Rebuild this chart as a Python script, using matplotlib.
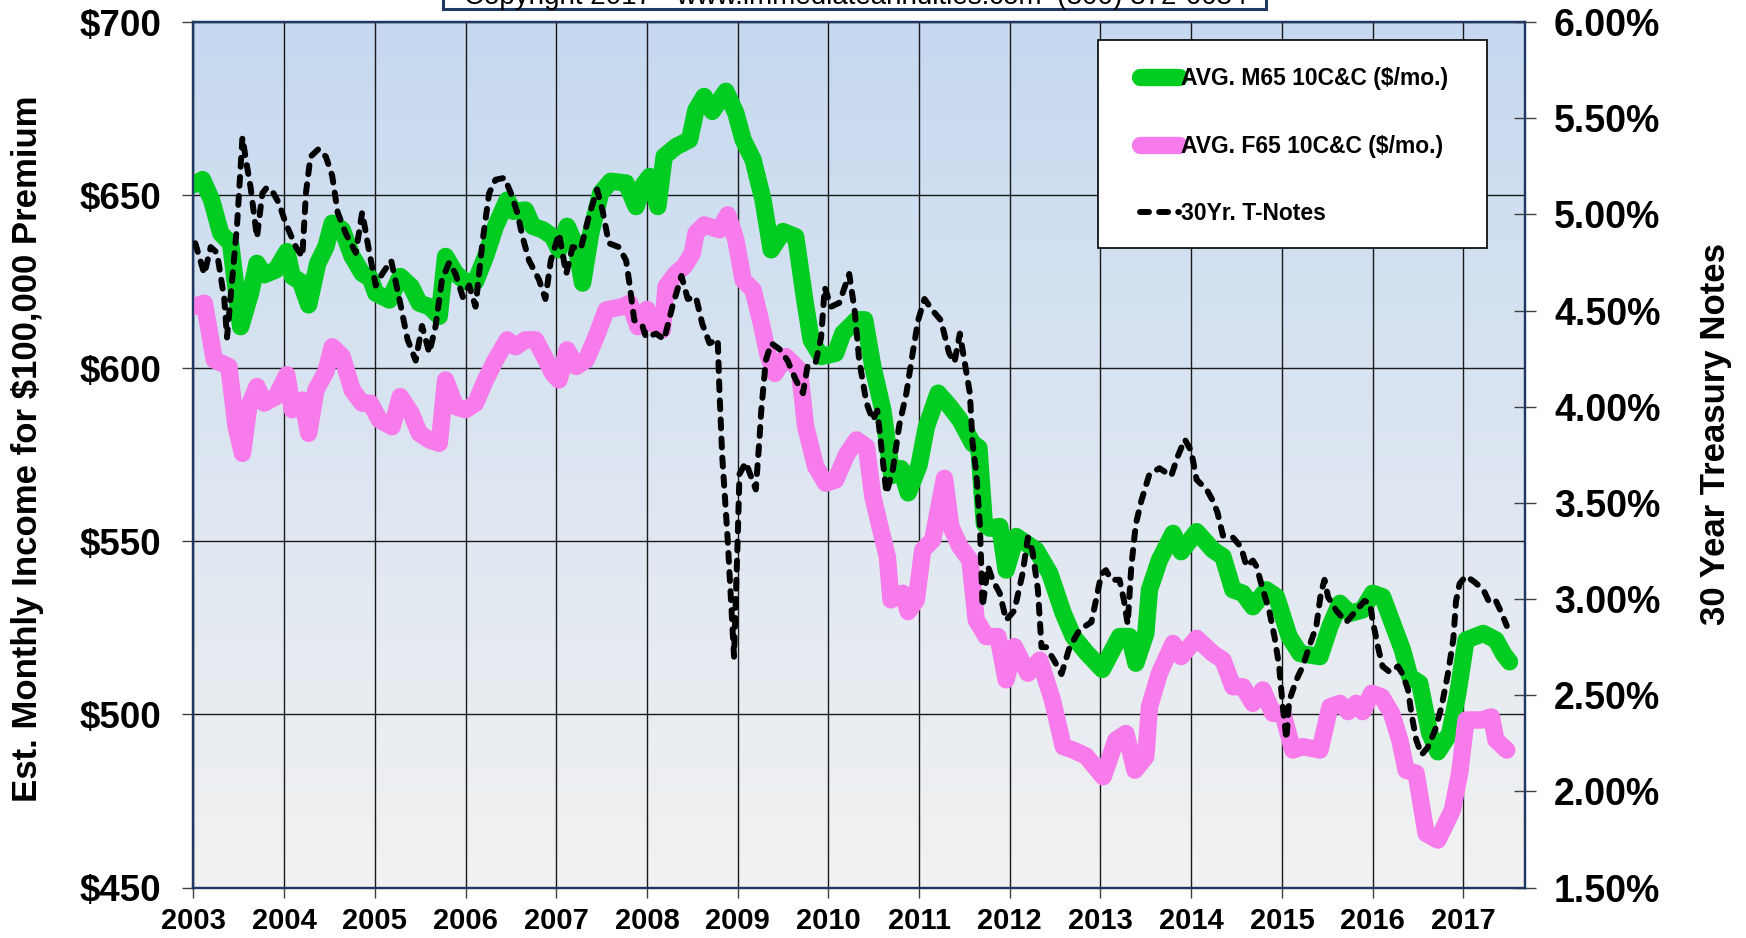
import numpy as np
import matplotlib
matplotlib.use("Agg")
import matplotlib.pyplot as plt
from matplotlib.colors import LinearSegmentedColormap
from matplotlib.patches import Rectangle
from matplotlib.ticker import FuncFormatter

plt.rcParams['font.family'] = ['Liberation Sans', 'DejaVu Sans']
plt.rcParams['font.weight'] = 'bold'

# AVG. M65 10C&C ($/mo.) - left axis
m65_t = [2003.00, 2003.10, 2003.20, 2003.30, 2003.41, 2003.52, 2003.63, 2003.70, 2003.78, 2003.91,
         2004.03, 2004.09, 2004.18, 2004.27, 2004.37, 2004.46, 2004.53, 2004.64, 2004.75, 2004.86,
         2004.95, 2005.01, 2005.16, 2005.28, 2005.40, 2005.49, 2005.60, 2005.71, 2005.78, 2005.89,
         2006.00, 2006.11, 2006.22, 2006.33, 2006.46, 2006.53, 2006.66, 2006.74, 2006.85, 2006.96,
         2007.03, 2007.12, 2007.22, 2007.29, 2007.38, 2007.49, 2007.60, 2007.77, 2007.88, 2007.96,
         2008.03, 2008.12, 2008.19, 2008.32, 2008.47, 2008.54, 2008.63, 2008.72, 2008.87, 2008.98,
         2009.06, 2009.17, 2009.28, 2009.37, 2009.50, 2009.64, 2009.74, 2009.81, 2009.92, 2010.08,
         2010.16, 2010.31, 2010.40, 2010.49, 2010.60, 2010.70, 2010.80, 2010.88, 2011.00, 2011.08,
         2011.21, 2011.34, 2011.45, 2011.59, 2011.66, 2011.72, 2011.78, 2011.89, 2011.96, 2012.07,
         2012.29, 2012.44, 2012.59, 2012.70, 2012.84, 2013.02, 2013.21, 2013.32, 2013.39, 2013.50,
         2013.54, 2013.65, 2013.80, 2013.89, 2014.06, 2014.24, 2014.35, 2014.46, 2014.57, 2014.68,
         2014.83, 2014.94, 2015.08, 2015.20, 2015.42, 2015.53, 2015.64, 2015.75, 2015.89, 2016.00,
         2016.11, 2016.22, 2016.33, 2016.41, 2016.52, 2016.63, 2016.72, 2016.85, 2016.94, 2017.03,
         2017.22, 2017.36, 2017.44, 2017.51]
m65_v = [653, 654.5, 648.6, 639, 636, 612, 621.7, 630.3, 627, 628.4,
         633.7, 626.5, 625, 618.3, 630.3, 635.1, 641.9, 640, 632.3, 627.4,
         626, 621.7, 619.7, 626.5, 623.6, 618.8, 617.8, 615, 632.3, 627.4,
         625, 625, 632.3, 641, 648.6, 645.3, 645.7, 641, 640, 638,
         634.2, 641, 635.1, 624.6, 639, 650.6, 654, 653.5, 646.7, 653,
         655.4, 646.7, 661.2, 664, 666, 674.6, 678.5, 674.2, 680, 673.7,
         666, 660.2, 648.6, 634.2, 639.5, 638, 619.7, 608.2, 603.4, 604.3,
         610.1, 614, 614, 600.5, 588, 569, 571, 564, 572, 583,
         592.8, 588.9, 585.1, 578.3, 577, 555, 553.8, 554.3, 541.7, 551.4,
         547.5, 540.8, 529.2, 522.5, 518, 513, 522.5, 522.5, 514.8, 523.4,
         536, 544.6, 552.3, 547, 552.8, 547.5, 545.6, 536, 535, 531.1,
         536, 534, 522.5, 517.6, 516.7, 525.4, 532.1, 529.2, 530.2, 535,
         534, 526.3, 518.6, 510.9, 509, 494.5, 489.2, 494.5, 506.1, 521.5,
         523.4, 521.5, 517.6, 515.2]

# AVG. F65 10C&C ($/mo.) - left axis
f65_t = [2003.00, 2003.12, 2003.23, 2003.39, 2003.47, 2003.54, 2003.61, 2003.70, 2003.78, 2003.91,
         2004.03, 2004.09, 2004.20, 2004.27, 2004.35, 2004.46, 2004.53, 2004.64, 2004.75, 2004.86,
         2004.95, 2005.05, 2005.19, 2005.28, 2005.40, 2005.49, 2005.60, 2005.71, 2005.78, 2005.89,
         2006.00, 2006.11, 2006.22, 2006.33, 2006.46, 2006.55, 2006.66, 2006.77, 2006.85, 2006.96,
         2007.03, 2007.12, 2007.22, 2007.33, 2007.44, 2007.55, 2007.73, 2007.81, 2007.90, 2007.96,
         2008.00, 2008.06, 2008.17, 2008.21, 2008.32, 2008.41, 2008.50, 2008.54, 2008.63, 2008.80,
         2008.89, 2008.98, 2009.06, 2009.17, 2009.26, 2009.33, 2009.41, 2009.53, 2009.68, 2009.75,
         2009.86, 2009.97, 2010.08, 2010.20, 2010.31, 2010.42, 2010.49, 2010.56, 2010.65, 2010.69,
         2010.82, 2010.88, 2010.97, 2011.04, 2011.15, 2011.28, 2011.35, 2011.45, 2011.56, 2011.63,
         2011.74, 2011.87, 2011.96, 2012.05, 2012.20, 2012.33, 2012.47, 2012.59, 2012.70, 2012.84,
         2013.03, 2013.17, 2013.28, 2013.38, 2013.50, 2013.54, 2013.65, 2013.80, 2013.89, 2014.06,
         2014.24, 2014.35, 2014.46, 2014.57, 2014.68, 2014.79, 2014.90, 2015.01, 2015.12, 2015.23,
         2015.42, 2015.53, 2015.64, 2015.73, 2015.82, 2015.89, 2015.99, 2016.10, 2016.21, 2016.30,
         2016.37, 2016.48, 2016.59, 2016.72, 2016.88, 2016.96, 2017.03, 2017.20, 2017.31, 2017.36,
         2017.48]
f65_v = [617.8, 618.8, 602.4, 600.5, 583.1, 575.4, 588.9, 594.7, 589.9, 591.8,
         598.1, 588, 590.8, 581.2, 593.7, 599, 606.2, 603.4, 593.7, 589.9,
         589.9, 585.1, 583.1, 591.8, 587, 581.2, 579.3, 578.3, 596.6, 588.9,
         588, 589.9, 596.6, 602.4, 608.2, 606.2, 608.2, 608.2, 604.3, 598.5,
         596.6, 605.3, 600.5, 602.4, 609.1, 616.8, 617.8, 618.8, 612, 614,
         617, 613, 611.1, 623.6, 627.4, 629.4, 633.2, 639, 641.4, 640,
         644.3, 637.1, 625.5, 622.6, 613, 604.3, 598.5, 603.4, 599.5, 583.1,
         571.6, 566.8, 567.7, 575, 579.3, 577.3, 563, 555.2, 545.6, 533.1,
         535, 529.7, 533.1, 547.5, 550.4, 568.2, 554.3, 548.5, 544.6, 527.3,
         522.5, 522.5, 510, 519.6, 511.9, 515.7, 504.2, 490.7, 489.7, 488,
         482, 492.6, 494.5, 483.9, 487.8, 502.2, 511.9, 520.5, 516.7, 522,
         517.6, 515.7, 508, 508, 503.2, 507.1, 500.3, 500.3, 489.7, 490.7,
         489.7, 502.2, 503.2, 500.8, 503.2, 500.8, 506.1, 505.1, 500.3, 492.6,
         483.9, 483, 465.6, 463.7, 472.4, 483, 498.4, 498.4, 499.3, 492.6,
         489.7]

# 30Yr. T-Notes (%) - right axis
tn_t = [2003.02, 2003.12, 2003.19, 2003.26, 2003.34, 2003.37, 2003.48, 2003.54, 2003.58, 2003.63,
        2003.70, 2003.76, 2003.81, 2003.87, 2003.94, 2004.02, 2004.13, 2004.20, 2004.24, 2004.29,
        2004.38, 2004.46, 2004.53, 2004.59, 2004.68, 2004.79, 2004.86, 2004.94, 2005.01, 2005.08,
        2005.18, 2005.27, 2005.36, 2005.45, 2005.52, 2005.60, 2005.67, 2005.74, 2005.82, 2005.89,
        2005.97, 2006.04, 2006.11, 2006.19, 2006.26, 2006.33, 2006.43, 2006.50, 2006.57, 2006.63,
        2006.70, 2006.81, 2006.88, 2006.94, 2007.03, 2007.11, 2007.18, 2007.27, 2007.36, 2007.45,
        2007.51, 2007.58, 2007.69, 2007.77, 2007.81, 2007.86, 2007.95, 2007.99, 2008.10, 2008.19,
        2008.28, 2008.38, 2008.45, 2008.54, 2008.61, 2008.69, 2008.78, 2008.80, 2008.83, 2008.89,
        2008.96, 2009.00, 2009.02, 2009.09, 2009.20, 2009.24, 2009.26, 2009.31, 2009.37, 2009.46,
        2009.55, 2009.64, 2009.72, 2009.77, 2009.86, 2009.92, 2009.96, 2010.03, 2010.12, 2010.23,
        2010.29, 2010.34, 2010.42, 2010.49, 2010.54, 2010.58, 2010.64, 2010.71, 2010.78, 2010.86,
        2010.93, 2010.99, 2011.06, 2011.15, 2011.24, 2011.33, 2011.39, 2011.45, 2011.50, 2011.56,
        2011.59, 2011.63, 2011.67, 2011.70, 2011.76, 2011.81, 2011.89, 2011.96, 2012.05, 2012.14,
        2012.20, 2012.25, 2012.31, 2012.35, 2012.40, 2012.49, 2012.57, 2012.66, 2012.77, 2012.90,
        2013.01, 2013.06, 2013.12, 2013.21, 2013.26, 2013.30, 2013.34, 2013.39, 2013.45, 2013.54,
        2013.65, 2013.78, 2013.85, 2013.93, 2014.00, 2014.06, 2014.17, 2014.24, 2014.29, 2014.35,
        2014.46, 2014.55, 2014.61, 2014.68, 2014.72, 2014.79, 2014.86, 2014.92, 2014.97, 2015.01,
        2015.05, 2015.08, 2015.16, 2015.23, 2015.30, 2015.38, 2015.43, 2015.47, 2015.51, 2015.60,
        2015.71, 2015.82, 2015.91, 2015.97, 2016.00, 2016.06, 2016.11, 2016.19, 2016.28, 2016.33,
        2016.39, 2016.43, 2016.48, 2016.54, 2016.61, 2016.69, 2016.76, 2016.83, 2016.89, 2016.92,
        2016.96, 2017.03, 2017.12, 2017.22, 2017.29, 2017.36, 2017.42, 2017.48]
tn_r = [4.85, 4.69, 4.83, 4.80, 4.56, 4.36, 4.94, 5.40, 5.28, 5.14,
        4.88, 5.11, 5.14, 5.12, 5.06, 4.95, 4.83, 4.78, 5.11, 5.30,
        5.34, 5.30, 5.20, 5.01, 4.90, 4.80, 5.01, 4.80, 4.63, 4.69,
        4.76, 4.56, 4.35, 4.24, 4.42, 4.28, 4.42, 4.66, 4.75, 4.69,
        4.57, 4.63, 4.52, 4.87, 5.11, 5.18, 5.19, 5.11, 5.01, 4.88,
        4.76, 4.66, 4.56, 4.76, 4.90, 4.69, 4.83, 4.82, 4.99, 5.13,
        5.02, 4.85, 4.83, 4.76, 4.63, 4.45, 4.42, 4.36, 4.38, 4.35,
        4.52, 4.68, 4.56, 4.57, 4.43, 4.33, 4.35, 4.07, 3.74, 3.31,
        2.70, 3.31, 3.65, 3.71, 3.57, 3.83, 3.98, 4.24, 4.33, 4.30,
        4.24, 4.14, 4.07, 4.21, 4.23, 4.36, 4.62, 4.52, 4.54, 4.69,
        4.50, 4.24, 4.02, 3.93, 3.98, 3.81, 3.55, 3.67, 3.90, 4.07,
        4.28, 4.45, 4.56, 4.50, 4.45, 4.28, 4.23, 4.38, 4.24, 4.07,
        3.81, 3.66, 3.39, 2.96, 3.17, 3.10, 3.03, 2.89, 2.94, 3.13,
        3.32, 3.25, 3.05, 2.75, 2.75, 2.68, 2.61, 2.75, 2.84, 2.88,
        3.13, 3.15, 3.10, 3.10, 2.99, 2.87, 3.17, 3.39, 3.51, 3.65,
        3.68, 3.64, 3.74, 3.83, 3.77, 3.62, 3.57, 3.51, 3.45, 3.33,
        3.32, 3.27, 3.17, 3.20, 3.17, 3.05, 2.94, 2.80, 2.65, 2.44,
        2.27, 2.47, 2.58, 2.65, 2.75, 2.86, 3.03, 3.10, 3.01, 2.94,
        2.88, 2.94, 2.99, 2.98, 2.89, 2.75, 2.65, 2.62, 2.65, 2.61,
        2.53, 2.40, 2.27, 2.19, 2.23, 2.32, 2.44, 2.61, 2.79, 2.99,
        3.08, 3.12, 3.09, 3.05, 2.98, 2.99, 2.93, 2.86]

years = list(range(2003, 2018))
left_ticks = [450, 500, 550, 600, 650, 700]
right_ticks = [1.5, 2.0, 2.5, 3.0, 3.5, 4.0, 4.5, 5.0, 5.5, 6.0]
labels = ["AVG. M65 10C&C ($/mo.)", "AVG. F65 10C&C ($/mo.)", "30Yr. T-Notes"]

GREEN = '#00CC22'
PINK = '#F77BEA'
NAVY = '#1F3864'

fig = plt.figure(figsize=(17.46, 9.38), dpi=100)
ax = fig.add_axes([0.1108, 0.0538, 0.7626, 0.9227])
ax2 = ax.twinx()

# gradient background
cmap = LinearSegmentedColormap.from_list('bg', ['#C6D9F0', '#F2F2F2'])
grad = np.linspace(0, 1, 256).reshape(-1, 1)
ax.imshow(grad, cmap=cmap, aspect='auto', extent=[0, 1, 0, 1],
          transform=ax.transAxes, origin='upper', zorder=-1)

l1, = ax.plot(m65_t, m65_v, color=GREEN, lw=12.5, solid_capstyle='round',
              solid_joinstyle='round', zorder=3)
l2, = ax.plot(f65_t, f65_v, color=PINK, lw=12.5, solid_capstyle='round',
              solid_joinstyle='round', zorder=3)
l3, = ax2.plot(tn_t, tn_r, color='black', lw=4.3, ls=(0, (1.5, 1.7)),
               dash_capstyle='round', zorder=3)

ax.set_xlim(2003, 2017.68)
ax.set_ylim(450, 700)
ax2.set_ylim(1.5, 6.0)
ax.set_xticks(years)
ax.set_yticks(left_ticks)
ax2.set_yticks(right_ticks)
ax.yaxis.set_major_formatter(FuncFormatter(lambda v, p: '${:.0f}'.format(v)))
ax2.yaxis.set_major_formatter(FuncFormatter(lambda v, p: '{:.2f}%'.format(v)))

ax.set_axisbelow(True)
ax.grid(True, color='#1a1a1a', lw=1.0)

ax.tick_params(axis='y', direction='out', length=8, width=1, color='#404040', pad=15, labelsize=26.5)
ax.tick_params(axis='x', direction='out', length=7, width=1, color='#404040', pad=7, labelsize=21)
ax2.tick_params(axis='y', direction='inout', length=16, width=1, color='#404040', pad=13, labelsize=27)

for a in (ax, ax2):
    for s in a.spines.values():
        s.set_color(NAVY)
        s.set_linewidth(1.6)

fig.text(27.5 / 1746, 1 - 449 / 938, 'Est. Monthly Income for $100,000 Premium',
         rotation=90, ha='center', va='center', fontsize=25, fontweight='bold')
fig.text(1715 / 1746, 1 - 434 / 938, '30 Year Treasury Notes',
         rotation=90, ha='center', va='center', fontsize=25, fontweight='bold')

# legend box
ax2.add_patch(Rectangle((0.6795, 0.7385), 0.9712 - 0.6795, 0.9792 - 0.7385,
                        transform=ax2.transAxes, facecolor='white',
                        edgecolor='black', lw=1.2, zorder=4))
leg = ax2.legend([l1, l2, l3], labels, loc='upper left', bbox_to_anchor=(0.7109, 0.9475),
                 frameon=False, borderpad=0, borderaxespad=0, handlelength=1.7,
                 handletextpad=0.1, labelspacing=1.93,
                 prop={'size': 16.5, 'weight': 'bold'})
leg.set_zorder(5)

# copyright banner, cut off at the top as in the original
fig.add_artist(Rectangle((442.7 / 1746, 929 / 938), (1266 - 442.7) / 1746, 0.05,
                         transform=fig.transFigure, facecolor='white',
                         edgecolor=NAVY, lw=2.2))
fig.text(856 / 1746, 934 / 938, 'Copyright 2017 - www.immediateannuities.com  (800) 872-6684',
         ha='center', va='baseline', fontsize=20, fontweight='normal', color='black')

fig.savefig('out.png', dpi=100)
